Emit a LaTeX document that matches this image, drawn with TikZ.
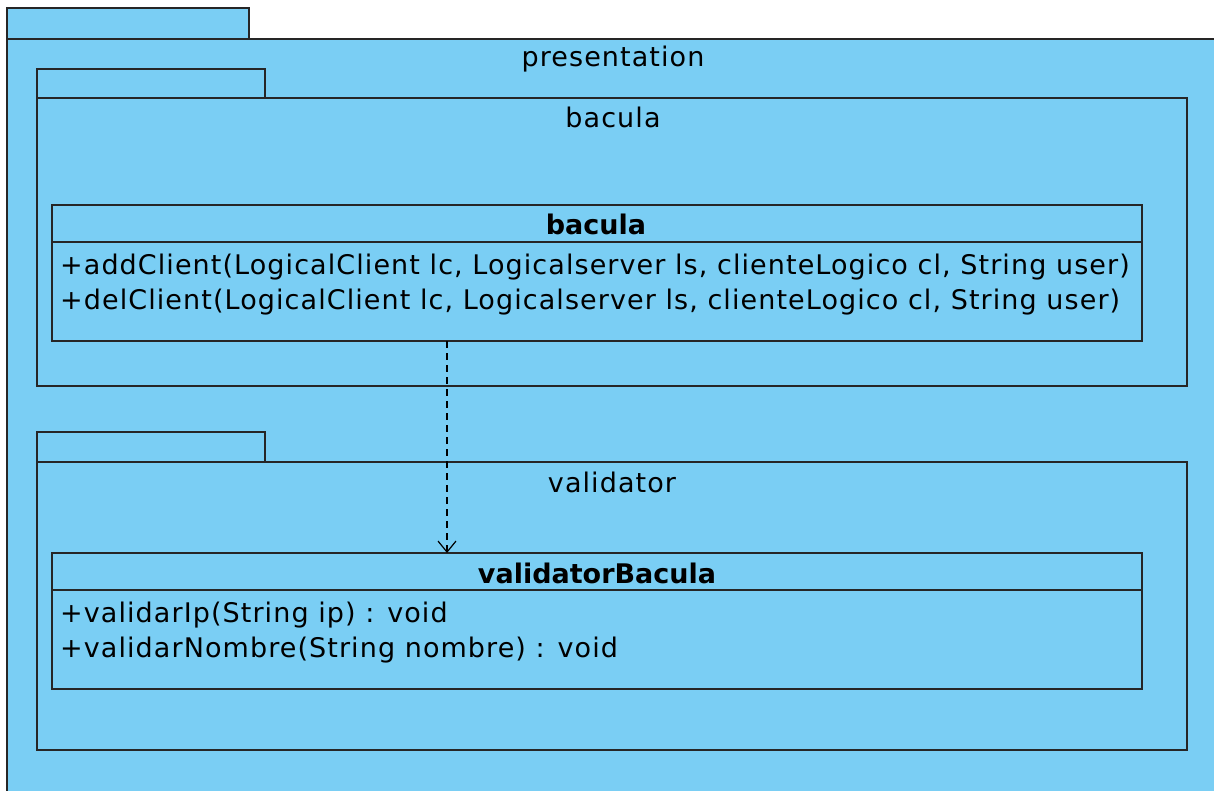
\documentclass[tikz,border=0pt]{standalone}
\usepackage{fontspec}
\setmainfont{DejaVu Sans}
\newfontfamily\umlfont[LetterSpace=4]{DejaVu Sans}
\newfontfamily\umlbold[BoldFont={DejaVu Sans Bold}]{DejaVu Sans}
\usetikzlibrary{arrows.meta}
\begin{document}
\begin{tikzpicture}[x=1pt,y=-1pt,
  pkg/.style={draw=black!85, line width=1.4pt, fill=pkgblue},
  cls/.style={draw=black!85, line width=1.4pt},
  lbl/.style={font=\umlfont\fontsize{27}{32}\selectfont, inner sep=0pt, anchor=base},
  mth/.style={font=\umlfont\fontsize{27}{32}\selectfont, inner sep=0pt, anchor=base west},
  ttl/.style={font=\umlbold\fontsize{27}{32}\selectfont\bfseries, inner sep=0pt, anchor=base},
  dep/.style={draw=black, line width=1.2pt, dash pattern=on 7pt off 5pt, -{Straight Barb[length=11pt,width=18pt]}}]
\definecolor{pkgblue}{RGB}{122,206,244}
\useasboundingbox (0,0) rectangle (1214,791);
\fill[white] (0,0) rectangle (1214,791);
\begin{scope}
\clip (0,0) rectangle (1214,791);
% outer package
\draw[pkg] (7,8) rectangle (249,39);
\draw[pkg] (7,39) rectangle (1230,810);
\node[lbl] (presentation) at (613,67) {presentation};
% bacula package
\draw[pkg] (37,69) rectangle (265,98);
\draw[pkg] (37,98) rectangle (1187,386);
\node[lbl] (baculapkg) at (613,128) {bacula};
% bacula class
\draw[cls] (52,205) rectangle (1142,341);
\draw[cls] (52,242) -- (1142,242);
\coordinate (baculabot) at (447,341);
\node[ttl] (baculattl) at (596,235) {bacula};
\node[mth] (add) at (60,275) {+addClient(LogicalClient lc, Logicalserver ls, clienteLogico cl, String user)};
\node[mth] (del) at (60,309) {+delClient(LogicalClient lc, Logicalserver ls, clienteLogico cl, String user)};
% validator package
\draw[pkg] (37,432) rectangle (265,462);
\draw[pkg] (37,462) rectangle (1187,750);
\node[lbl] (validatorpkg) at (612,492) {validator};
% validatorBacula class
\draw[cls] (52,553) rectangle (1142,689);
\draw[cls] (52,590) -- (1142,590);
\coordinate (validtop) at (447,553);
\node[ttl] (validttl) at (597,583) {validatorBacula};
\node[mth] (vip) at (60,622) {+validarIp(String ip) : void};
\node[mth] (vnom) at (60,657) {+validarNombre(String nombre) : void};
% dependency
\draw[dep] (baculabot) -- (validtop);
\end{scope}
\end{tikzpicture}
\end{document}
